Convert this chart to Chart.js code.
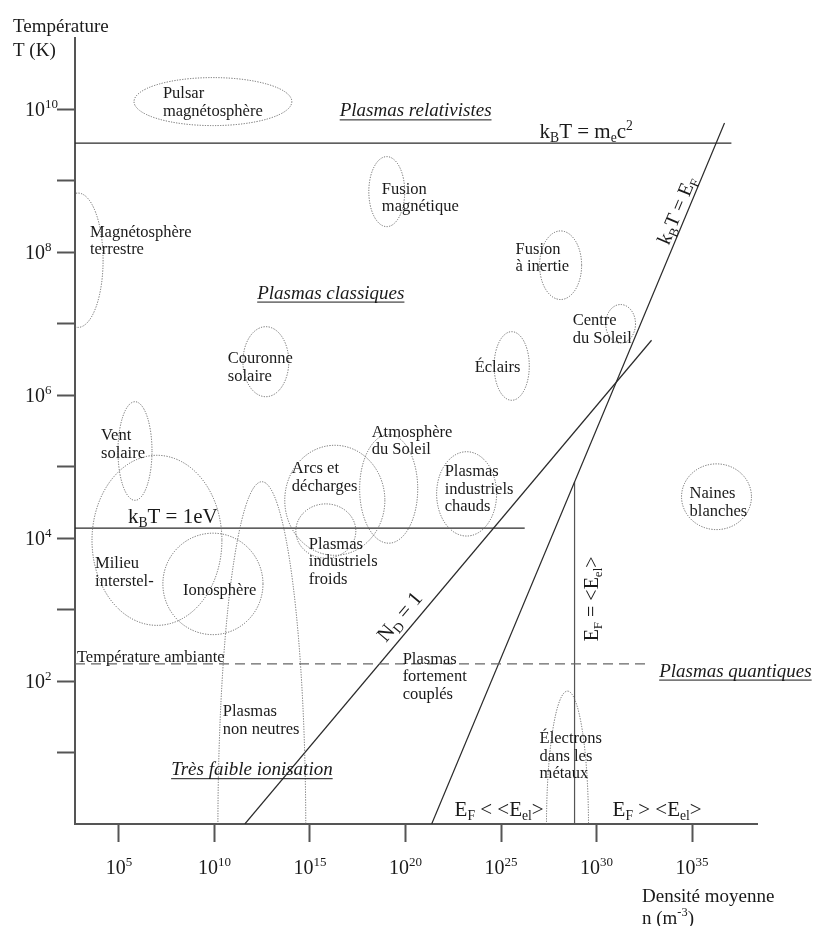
<!DOCTYPE html>
<html>
<head>
<meta charset="utf-8">
<script src="https://cdn.jsdelivr.net/npm/chart.js@4.4.1/dist/chart.umd.min.js"></script>
<style>
  html, body { margin: 0; padding: 0; background: #fff; }
  canvas { display: block; }
</style>
</head>
<body>
<canvas id="plasmaChart" width="815" height="926"></canvas>
<script>
const FONT = '"Liberation Serif", "Times New Roman", serif';

// axes are in log10 units : x = log10 n (m-3), y = log10 T (K)
const xTickExps = [5, 10, 15, 20, 25, 30, 35];
const yTickExps = [1, 2, 3, 4, 5, 6, 7, 8, 9, 10];
const yLabelExps = [2, 4, 6, 8, 10];

// boundary lines
const relLine = [[2.7, 9.53], [37.06, 9.53]];      // kB T = me c2
const eVLine = [[2.7, 4.14], [26.24, 4.14]];       // kB T = 1 eV
const ambientLine = [[2.7, 2.24], [32.67, 2.24]];  // room temperature
const debyeLine = [[11.59, 0], [32.88, 6.77]];     // N_D = 1
const fermiLine = [[21.37, 0], [36.7, 9.81]];      // kB T = E_F
const degenLine = [[28.85, 0], [28.85, 4.79]];     // E_F = <E_el>

// plasma domains : [log n centre, log T centre, half width, half height]
const domains = [
  [9.92, 10.11, 4.13, 0.336],  // pulsar
  [19.02, 8.85, 0.94, 0.49],   // fusion magnetique
  [2.86, 7.89, 1.31, 0.94],    // magnetosphere terrestre
  [28.12, 7.82, 1.10, 0.48],   // fusion inertielle
  [31.26, 7.00, 0.78, 0.27],   // centre du soleil
  [12.69, 6.47, 1.20, 0.49],   // couronne
  [25.56, 6.41, 0.92, 0.48],   // eclairs
  [5.84, 5.22, 0.89, 0.69],    // vent solaire
  [6.99, 3.97, 3.40, 1.19],    // milieu interstellaire
  [9.92, 3.36, 2.62, 0.71],    // ionosphere
  [12.48, -0.08, 2.30, 4.87],  // non neutres
  [16.30, 4.53, 2.62, 0.77],   // arcs
  [15.83, 4.10, 1.57, 0.38],   // industriels froids
  [19.12, 4.69, 1.52, 0.76],   // atmosphere du soleil
  [23.20, 4.62, 1.57, 0.59],   // industriels chauds
  [36.28, 4.58, 1.83, 0.46],   // naines blanches
  [28.48, -0.03, 1.10, 1.89]   // metaux
];

const domainLabels = [
  [7.30, 10.23, ['Pulsar', 'magnétosphère']],
  [18.76, 8.89, ['Fusion', 'magnétique']],
  [3.48, 8.29, ['Magnétosphère', 'terrestre']],
  [25.76, 8.05, ['Fusion', 'à inertie']],
  [28.75, 7.05, ['Centre', 'du Soleil']],
  [10.70, 6.52, ['Couronne', 'solaire']],
  [23.62, 6.40, ['Éclairs']],
  [4.06, 5.44, ['Vent', 'solaire']],
  [18.23, 5.49, ['Atmosphère', 'du Soleil']],
  [14.05, 4.98, ['Arcs et', 'décharges']],
  [22.05, 4.94, ['Plasmas', 'industriels', 'chauds']],
  [34.87, 4.63, ['Naines', 'blanches']],
  [14.94, 3.92, ['Plasmas', 'industriels', 'froids']],
  [3.75, 3.65, ['Milieu', 'interstel-']],
  [8.35, 3.28, ['Ionosphère']],
  [2.80, 2.34, ['Température ambiante']],
  [19.85, 2.31, ['Plasmas', 'fortement', 'couplés']],
  [10.44, 1.58, ['Plasmas', 'non neutres']],
  [27.02, 1.20, ['Électrons', 'dans les', 'métaux']]
];

const regionTitles = [
  [20.53, 9.98, 'Plasmas relativistes'],
  [16.09, 7.43, 'Plasmas classiques'],
  [11.96, 0.76, 'Très faible ionisation'],
  [37.27, 2.14, 'Plasmas quantiques']
];

function seg(points) {
  return points.map(([x, y]) => ({ x, y }));
}

function lineSet(points, dash, color) {
  return {
    data: seg(points),
    showLine: true,
    pointRadius: 0,
    borderColor: color || '#2a2a2a',
    borderWidth: 1.2,
    borderDash: dash || [],
    fill: false
  };
}

// text with sub (b) and super (p) scripts, y = baseline
function drawRich(ctx, parts, x, y, size, align, italic) {
  const st = italic ? 'italic ' : '';
  let w = 0;
  parts.forEach(([t, k]) => {
    ctx.font = st + (k ? size * 0.65 : size) + 'px ' + FONT;
    w += ctx.measureText(t).width;
  });
  let cx = align === 'center' ? x - w / 2 : x;
  parts.forEach(([t, k]) => {
    const s = k ? size * 0.65 : size;
    ctx.font = st + s + 'px ' + FONT;
    const dy = k === 'b' ? size * 0.2 : k === 'p' ? -size * 0.4 : 0;
    ctx.fillText(t, cx, y + dy);
    cx += ctx.measureText(t).width;
  });
  return w;
}

const diagramPlugin = {
  id: 'diagram',
  afterDatasetsDraw(chart) {
    const { ctx, chartArea: a, scales: { x, y } } = chart;
    ctx.save();
    ctx.beginPath();
    ctx.rect(a.left, a.top, a.right - a.left, a.bottom - a.top);
    ctx.clip();
    ctx.strokeStyle = '#666';
    ctx.lineWidth = 1;
    ctx.setLineDash([1.2, 1.4]);
    domains.forEach(([cx, cy, rx, ry]) => {
      const px = x.getPixelForValue(cx), py = y.getPixelForValue(cy);
      const rpx = Math.abs(x.getPixelForValue(cx + rx) - px);
      const rpy = Math.abs(y.getPixelForValue(cy + ry) - py);
      ctx.beginPath();
      ctx.ellipse(px, py, rpx, rpy, 0, 0, Math.PI * 2);
      ctx.stroke();
    });
    ctx.restore();
  },
  afterDraw(chart) {
    const { ctx, scales: { x, y } } = chart;
    const X = v => x.getPixelForValue(v), Y = v => y.getPixelForValue(v);
    ctx.save();
    ctx.fillStyle = '#1a1a1a';
    ctx.textBaseline = 'alphabetic';
    ctx.textAlign = 'left';

    // tick labels
    yLabelExps.forEach(e => {
      drawRich(ctx, [['10', ''], [String(e), 'p']], 25, Y(e) + 7, 20, 'left');
    });
    xTickExps.forEach(e => {
      drawRich(ctx, [['10', ''], [String(e), 'p']], X(e), 874, 20, 'center');
    });

    // axis titles
    drawRich(ctx, [['Température', '']], 13, 32, 19, 'left');
    drawRich(ctx, [['T (K)', '']], 13, 56, 19, 'left');
    drawRich(ctx, [['Densité moyenne', '']], 642, 902, 19, 'left');
    drawRich(ctx, [['n (m', ''], ['-3', 'p'], [')', '']], 642, 924, 19, 'left');

    // domain labels
    domainLabels.forEach(([lx, ly, lines]) => {
      lines.forEach((t, i) => {
        drawRich(ctx, [[t, '']], X(lx), Y(ly) + 5 + i * 17.5, 16.5, 'left');
      });
    });

    // region titles, italic underlined
    ctx.strokeStyle = '#1a1a1a';
    ctx.lineWidth = 1;
    regionTitles.forEach(([lx, ly, t]) => {
      const bx = X(lx), by = Y(ly) + 5.5;
      const w = drawRich(ctx, [[t, '']], bx, by, 19, 'center', true);
      ctx.beginPath();
      ctx.moveTo(bx - w / 2, by + 3.5);
      ctx.lineTo(bx + w / 2, by + 3.5);
      ctx.stroke();
    });

    // equations
    drawRich(ctx, [['k', ''], ['B', 'b'], ['T = m', ''], ['e', 'b'], ['c', ''], ['2', 'p']], X(27.02), Y(9.69) + 6.5, 21, 'left');
    drawRich(ctx, [['k', ''], ['B', 'b'], ['T = 1eV', '']], X(5.47), Y(4.30) + 6.5, 21, 'left');
    drawRich(ctx, [['E', ''], ['F', 'b'], [' < <E', ''], ['el', 'b'], ['>', '']], X(22.57), Y(0.20) + 6.5, 21, 'left');
    drawRich(ctx, [['E', ''], ['F', 'b'], [' > <E', ''], ['el', 'b'], ['>', '']], X(30.84), Y(0.20) + 6.5, 21, 'left');

    const along = (pts, cxv, cyv, parts, size) => {
      const ang = pts ? Math.atan2(Y(pts[1][1]) - Y(pts[0][1]), X(pts[1][0]) - X(pts[0][0])) : -Math.PI / 2;
      ctx.save();
      ctx.translate(X(cxv), Y(cyv));
      ctx.rotate(ang);
      drawRich(ctx, parts, 0, 6.5, size, 'center');
      ctx.restore();
    };
    along(fermiLine, 34.19, 8.59, [['k', ''], ['B', 'b'], ['T = E', ''], ['F', 'b']], 20);
    along(debyeLine, 19.70, 2.90, [['N', ''], ['D', 'b'], [' = 1', '']], 21);
    along(null, 29.74, 3.15, [['E', ''], ['F', 'b'], [' = <E', ''], ['el', 'b'], ['>', '']], 20);
    ctx.restore();
  }
};

const axisGrid = {
  drawOnChartArea: false,
  drawTicks: true,
  tickLength: 18,
  tickColor: '#555',
  tickWidth: 2
};

new Chart(document.getElementById('plasmaChart'), {
  type: 'scatter',
  data: {
    datasets: [
      lineSet(relLine),
      lineSet(eVLine),
      lineSet(ambientLine, [10, 6], '#666'),
      lineSet(debyeLine),
      lineSet(fermiLine),
      lineSet(degenLine, [], '#555')
    ]
  },
  options: {
    responsive: false,
    animation: false,
    events: [],
    layout: { padding: { top: 38, right: 58, left: 0, bottom: 0 } },
    plugins: { legend: { display: false }, tooltip: { enabled: false } },
    scales: {
      x: {
        type: 'linear',
        min: 2.7,
        max: 38.4,
        afterBuildTicks: s => { s.ticks = xTickExps.map(v => ({ value: v })); },
        afterFit: s => { s.height = 102; },
        ticks: { display: false },
        grid: axisGrid,
        border: { color: '#555', width: 2 }
      },
      y: {
        type: 'linear',
        min: 0,
        max: 11,
        afterBuildTicks: s => { s.ticks = yTickExps.map(v => ({ value: v })); },
        afterFit: s => { s.width = 75; },
        ticks: { display: false },
        grid: axisGrid,
        border: { color: '#555', width: 2 }
      }
    }
  },
  plugins: [diagramPlugin]
});
</script>
</body>
</html>
